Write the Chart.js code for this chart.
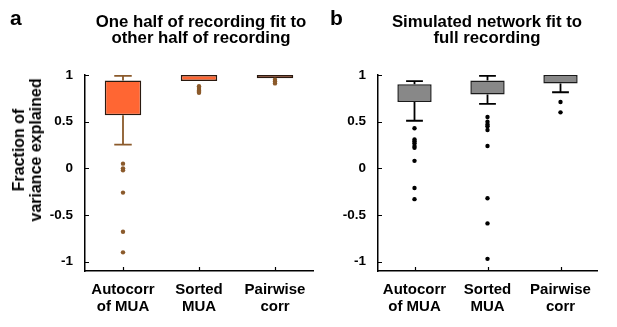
<!DOCTYPE html>
<html>
<head>
<meta charset="utf-8">
<script src="https://cdn.jsdelivr.net/npm/chart.js@4.4.1/dist/chart.umd.min.js"></script>
<style>
  html, body { margin:0; padding:0; background:#fff; }
  body { width:617px; height:327px; position:relative; overflow:hidden; font-family:"Liberation Sans", Arial, sans-serif; }
  canvas { position:absolute; top:0; }
  .txt { position:absolute; font-weight:bold; color:#000; white-space:nowrap; }
  .title { font-size:16.8px; line-height:16px; text-align:center; transform:translateX(-50%); }
  .letter { font-size:21px; line-height:21px; }
  .ytitle { font-size:16px; line-height:17px; text-align:center; transform:translate(-50%,-50%) rotate(-90deg); }
</style>
</head>
<body>
<canvas id="ca" width="317" height="327" style="left:0px"></canvas>
<canvas id="cb" width="300" height="327" style="left:317px"></canvas>
<div class="txt letter" style="left:10px; top:7px;">a</div>
<div class="txt title" style="left:201px; top:14px;">One half of recording fit to<br>other half of recording</div>
<div class="txt letter" style="left:330px; top:7px;">b</div>
<div class="txt title" style="left:487px; top:14px;">Simulated network fit to<br>full recording</div>
<div class="txt ytitle" style="left:27px; top:150px;">Fraction of<br>variance explained</div>
<script>
// ---------- data ----------
const categories = [['Autocorr', 'of MUA'], ['Sorted', 'MUA'], ['Pairwise', 'corr']];
const yTicks = [-1, -0.5, 0, 0.5, 1];

// Panel a: one half of recording fit to other half
const aQ1 = [0.57, 0.935, 0.965];
const aQ3 = [0.94, 1.0, 1.0];
const aWhiskerLow = [0.255, 0.935, 0.965];
const aWhiskerHigh = [0.99, 1.0, 1.0];
const aOutAutocorr = [0.05, 0.0, -0.02, -0.26, -0.68, -0.9];
const aOutSorted = [0.88, 0.86, 0.84, 0.83, 0.82, 0.81];
const aOutPairwise = [0.95, 0.93, 0.91];

// Panel b: simulated network fit to full recording
const bQ1 = [0.71, 0.79, 0.91];
const bQ3 = [0.90, 0.94, 1.0];
const bWhiskerLow = [0.51, 0.69, 0.815];
const bWhiskerHigh = [0.935, 0.99, 1.0];
const bOutAutocorr = [0.43, 0.31, 0.29, 0.27, 0.24, 0.22, 0.08, -0.21, -0.33];
const bOutSorted = [0.55, 0.50, 0.47, 0.45, 0.41, 0.24, -0.32, -0.59, -0.97];
const bOutPairwise = [0.71, 0.60];

// ---------- helpers ----------
const FONT = '"Liberation Sans", Arial, sans-serif';

const whiskerPlugin = {
  id: 'boxWhiskers',
  beforeDatasetsDraw(chart, args, opts) {
    const xs = chart.scales.x, ys = chart.scales.y, ctx = chart.ctx;
    const step = xs.getPixelForValue(1) - xs.getPixelForValue(0);
    const capHalf = step * opts.capFrac / 2;
    ctx.save();
    ctx.strokeStyle = opts.color;
    ctx.lineWidth = opts.lineWidth;
    opts.low.forEach((lo, i) => {
      const x = xs.getPixelForValue(i);
      const segs = [[lo, opts.q1[i]], [opts.high[i], opts.q3[i]]];
      segs.forEach(([w, q]) => {
        if (Math.abs(w - q) < 0.005) return;
        const yw = ys.getPixelForValue(w), yq = ys.getPixelForValue(q);
        ctx.beginPath();
        ctx.moveTo(x, yq); ctx.lineTo(x, yw);
        ctx.moveTo(x - capHalf, yw); ctx.lineTo(x + capHalf, yw);
        ctx.stroke();
      });
    });
    ctx.restore();
  }
};

const inwardTicks = {
  id: 'inwardTicks',
  afterDraw(chart) {
    const xs = chart.scales.x, ys = chart.scales.y, ctx = chart.ctx, a = chart.chartArea;
    ctx.save();
    ctx.strokeStyle = '#000';
    ctx.lineWidth = 1.2;
    ctx.beginPath();
    yTicks.forEach(v => {
      const y = Math.round(ys.getPixelForValue(v)) + 0.5;
      ctx.moveTo(a.left, y); ctx.lineTo(a.left + 4, y);
    });
    categories.forEach((c, i) => {
      const x = Math.round(xs.getPixelForValue(i)) + 0.5;
      ctx.moveTo(x, a.bottom); ctx.lineTo(x, a.bottom - 4);
    });
    ctx.stroke();
    ctx.restore();
  }
};

function outlierDatasets(lists, color) {
  return lists.map((list, i) => ({
    type: 'scatter',
    data: list.map(v => ({ x: categories[i], y: v })),
    backgroundColor: color,
    borderWidth: 0,
    pointRadius: 2.2,
    order: 1
  }));
}

function makeChart(id, cfg) {
  return new Chart(document.getElementById(id), {
    type: 'bar',
    data: {
      labels: categories,
      datasets: [
        {
          type: 'bar',
          data: cfg.q1.map((q, i) => [q, cfg.q3[i]]),
          backgroundColor: cfg.fill,
          borderColor: cfg.border,
          borderWidth: 1.5,
          borderSkipped: false,
          barPercentage: cfg.boxFrac,
          categoryPercentage: 1.0,
          grouped: false,
          order: 2
        },
        ...outlierDatasets(cfg.outliers, cfg.dot)
      ]
    },
    options: {
      responsive: false,
      animation: false,
      devicePixelRatio: 1,
      layout: { padding: { left: 0, right: cfg.rightPad, top: 75, bottom: 0 } },
      plugins: {
        legend: { display: false },
        tooltip: { enabled: false },
        boxWhiskers: {
          low: cfg.wLow, high: cfg.wHigh, q1: cfg.q1, q3: cfg.q3,
          color: cfg.whisker, lineWidth: 1.8, capFrac: 0.23
        }
      },
      scales: {
        x: {
          type: 'category',
          offset: true,
          grid: { display: true, drawOnChartArea: false, drawTicks: false },
          border: { display: true, color: '#000', width: 1.5 },
          ticks: {
            color: '#000',
            font: { family: FONT, size: 15, weight: 'bold', lineHeight: 1.1 },
            padding: 11,
            maxRotation: 0,
            autoSkip: false
          },
          afterFit(s) { s.height = 56; s.paddingLeft = 0; s.paddingRight = 0; }
        },
        y: {
          type: 'linear',
          min: -1.1,
          max: 1,
          grid: { display: true, drawOnChartArea: false, drawTicks: false },
          border: { display: true, color: '#000', width: 1.5 },
          ticks: {
            color: '#000',
            font: { family: FONT, size: 13.5, weight: 'bold' },
            padding: 12,
            callback: v => String(v)
          },
          afterBuildTicks(s) { s.ticks = yTicks.map(v => ({ value: v })); },
          afterFit(s) { s.width = cfg.yWidth; s.paddingTop = 0; s.paddingBottom = 0; }
        }
      }
    },
    plugins: [whiskerPlugin, inwardTicks]
  });
}

makeChart('ca', {
  q1: aQ1, q3: aQ3, wLow: aWhiskerLow, wHigh: aWhiskerHigh,
  outliers: [aOutAutocorr, aOutSorted, aOutPairwise],
  fill: '#FF6633', border: '#2a1a10', whisker: '#8B5A2B', dot: '#8B5A2B',
  boxFrac: 0.48, yWidth: 85, rightPad: 4
});

makeChart('cb', {
  q1: bQ1, q3: bQ3, wLow: bWhiskerLow, wHigh: bWhiskerHigh,
  outliers: [bOutAutocorr, bOutSorted, bOutPairwise],
  fill: '#888888', border: '#1a1a1a', whisker: '#000000', dot: '#000000',
  boxFrac: 0.47, yWidth: 61, rightPad: 20
});
</script>
</body>
</html>
